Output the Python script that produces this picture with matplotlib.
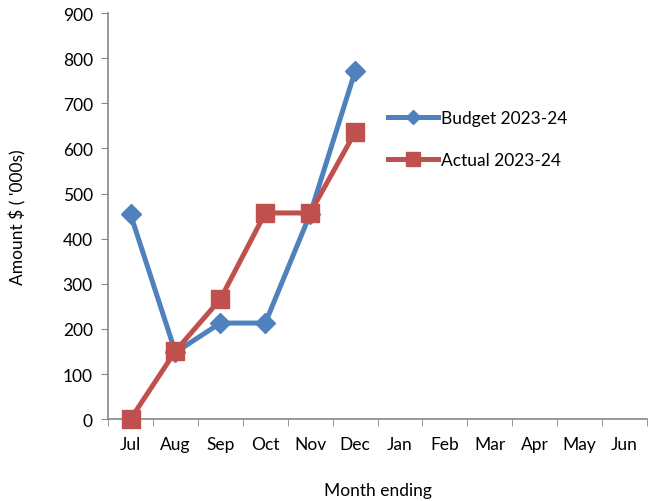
import numpy as np
import matplotlib.pyplot as plt
from matplotlib.ticker import MultipleLocator, FixedLocator

months = ['Jul', 'Aug', 'Sep', 'Oct', 'Nov', 'Dec', 'Jan', 'Feb', 'Mar', 'Apr', 'May', 'Jun']
budget = [454, 148, 213, 213, 455, 771]
actual = [0, 151, 266, 457, 457, 636]

plt.rcParams['font.family'] = ['Lato', 'DejaVu Sans']

fig = plt.figure(figsize=(6.51, 5.02), dpi=100)
ax = fig.add_axes([0.166, 0.163, 0.828, 0.809])

x = np.arange(len(months))
ax.plot(x[:len(budget)], budget, color='#4F81BD', lw=3.6, marker='D', ms=10,
        label='Budget 2023-24', clip_on=False, zorder=3)
ax.plot(x[:len(actual)], actual, color='#C0504D', lw=3.6, marker='s', ms=13,
        label='Actual 2023-24', clip_on=False, zorder=4)

ax.set_xlim(-0.5, len(months) - 0.5)
ax.set_ylim(0, 900)
ax.yaxis.set_major_locator(MultipleLocator(100))
ax.set_xticks(x)
ax.set_xticklabels(months)
ax.xaxis.set_minor_locator(FixedLocator(np.arange(-0.5, len(months), 1)))
ax.tick_params(axis='x', which='major', length=0, pad=12, labelsize=12.5)
ax.tick_params(axis='x', which='minor', length=5, color='#868686')
ax.tick_params(axis='y', length=5, color='#868686', labelsize=12.5, pad=6)

for s in ['top', 'right']:
    ax.spines[s].set_visible(False)
for s in ['left', 'bottom']:
    ax.spines[s].set_color('#868686')
    ax.spines[s].set_linewidth(1.2)

ax.set_ylabel("Amount $ ( '000s)", fontsize=12.5, labelpad=26)
ax.set_xlabel('Month ending', fontsize=12.5, labelpad=22)

leg = ax.legend(loc='upper left', bbox_to_anchor=(0.49, 0.8), frameon=False,
                fontsize=12.5, handlelength=2.9, labelspacing=1.5, handletextpad=0.15,
                markerscale=0.75)

fig.savefig('out.png', dpi=100)
